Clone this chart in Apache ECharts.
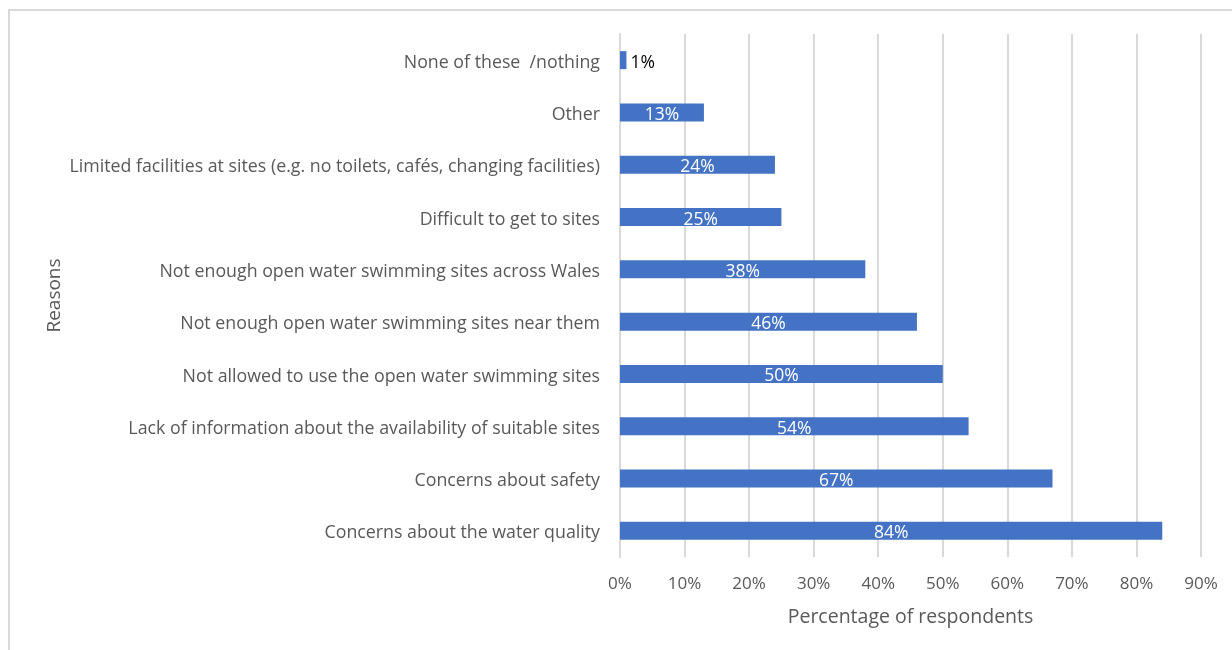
<!DOCTYPE html>
<html><head><meta charset="utf-8">
<script src="https://cdn.jsdelivr.net/npm/echarts@6/dist/echarts.min.js"></script>
<style>html,body{margin:0;padding:0;background:#fff}#c{width:1232px;height:650px}</style>
</head><body><div id="c"></div>
<script>
const categories = [
  "Concerns about the water quality",
  "Concerns about safety",
  "Lack of information about the availability of suitable sites",
  "Not allowed to use the open water swimming sites",
  "Not enough open water swimming sites near them",
  "Not enough open water swimming sites across Wales",
  "Difficult to get to sites",
  "Limited facilities at sites (e.g. no toilets, cafés, changing facilities)",
  "Other",
  "None of these  /nothing"
];
const values = [84, 67, 54, 50, 46, 38, 25, 24, 13, 1];
const xTicks = [0, 10, 20, 30, 40, 50, 60, 70, 80, 90];

const FONT = 'Open Sans';
const chart = echarts.init(document.getElementById('c'));
chart.setOption({
  animation: false,
  textStyle: { fontFamily: FONT },
  graphic: [{
    type: 'rect', shape: { x: 9, y: 10, width: 1240, height: 700 },
    style: { fill: 'none', stroke: '#d9d9d9', lineWidth: 2 }, silent: true
  }],
  grid: { left: 620, top: 34, right: 31, bottom: 93 },
  xAxis: {
    type: 'value', min: xTicks[0], max: xTicks[xTicks.length - 1], interval: 10,
    name: 'Percentage of respondents', nameLocation: 'middle', nameGap: 50,
    nameTextStyle: { color: '#595959', fontSize: 19.5, fontFamily: FONT },
    axisLine: { show: false }, axisTick: { show: false },
    axisLabel: { color: '#595959', fontSize: 17, margin: 19, formatter: v => v + '%' },
    splitLine: { show: true, lineStyle: { color: '#d9d9d9', width: 2 } }
  },
  yAxis: {
    type: 'category', data: categories,
    name: 'Reasons', nameLocation: 'middle', nameGap: 556, nameRotate: 90,
    nameTextStyle: { color: '#595959', fontSize: 19, fontFamily: FONT },
    axisLine: { show: true, lineStyle: { color: '#d9d9d9', width: 2 } },
    axisTick: { show: false },
    axisLabel: {
      margin: 20, formatter: v => '{a|' + v + '}',
      rich: { a: { color: '#595959', fontSize: 17.8, fontFamily: FONT, padding: [5, 0, 0, 0] } }
    }
  },
  series: [{
    type: 'bar', data: values.map((v, i) => v < 5 ? {
      value: v, label: { position: 'right', distance: 4,
        rich: { a: { color: '#000', fontSize: 17.5, fontFamily: FONT, padding: [5, 0, 0, 0] } } }
    } : v),
    barWidth: 18, itemStyle: { color: '#4472c4' },
    label: {
      show: true, position: 'inside', formatter: p => '{a|' + p.value + '%}',
      rich: { a: { color: '#fff', fontSize: 17.5, fontFamily: FONT, padding: [5, 0, 0, 0] } }
    }
  }]
});
</script></body></html>
